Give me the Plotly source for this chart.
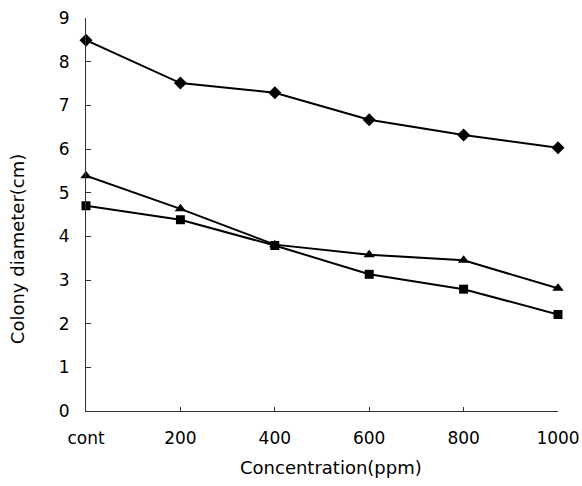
import plotly.graph_objects as go

categories = ["cont", "200", "400", "600", "800", "1000"]
diamond_vals = [8.49, 7.51, 7.29, 6.67, 6.32, 6.03]
square_vals = [4.70, 4.38, 3.79, 3.13, 2.79, 2.21]
triangle_vals = [5.39, 4.63, 3.81, 3.58, 3.45, 2.81]
y_ticks = [0, 1, 2, 3, 4, 5, 6, 7, 8, 9]

FONT = "DejaVu Sans, Liberation Sans, Arial, sans-serif"

fig = go.Figure()
x_idx = list(range(len(categories)))
for vals, sym, sz in [(diamond_vals, "diamond", 10), (square_vals, "square", 9), (triangle_vals, "triangle-up", 10)]:
    fig.add_trace(go.Scatter(
        x=x_idx, y=vals, mode="lines+markers",
        line=dict(color="black", width=2),
        marker=dict(symbol=sym, size=sz, color="black"),
        cliponaxis=False, showlegend=False,
    ))

fig.update_layout(
    width=582, height=486,
    margin=dict(l=86, r=24, t=18, b=75),
    paper_bgcolor="white", plot_bgcolor="white",
    font=dict(family=FONT, size=17, color="black"),
    annotations=[
        dict(text="Concentration(ppm)", xref="paper", yref="paper",
             x=0.519, y=-0.145, showarrow=False, font=dict(size=18),
             xanchor="center", yanchor="middle"),
        dict(text="Colony diameter(cm)", xref="paper", yref="paper",
             x=-0.146, y=0.412, showarrow=False, font=dict(size=18),
             textangle=-90, xanchor="center", yanchor="middle"),
    ],
)
fig.update_xaxes(
    range=[0, 5], tickvals=x_idx, ticktext=categories,
    showline=True, linecolor="#333", linewidth=1,
    ticks="inside", ticklen=4, tickcolor="#333",
    showgrid=False, zeroline=False, automargin=False,
    ticklabelstandoff=12, ticklabeloverflow="allow",
)
fig.update_yaxes(
    range=[0, 9], tickvals=y_ticks,
    showline=True, linecolor="#333", linewidth=1,
    ticks="inside", ticklen=5, tickcolor="#333",
    showgrid=False, zeroline=False, automargin=False,
    ticklabelstandoff=12, ticklabeloverflow="allow",
)
fig.write_html(
    "out.html",
    config={"displayModeBar": False},
    post_script="document.body.style.margin='0';document.body.style.overflow='hidden';",
)
